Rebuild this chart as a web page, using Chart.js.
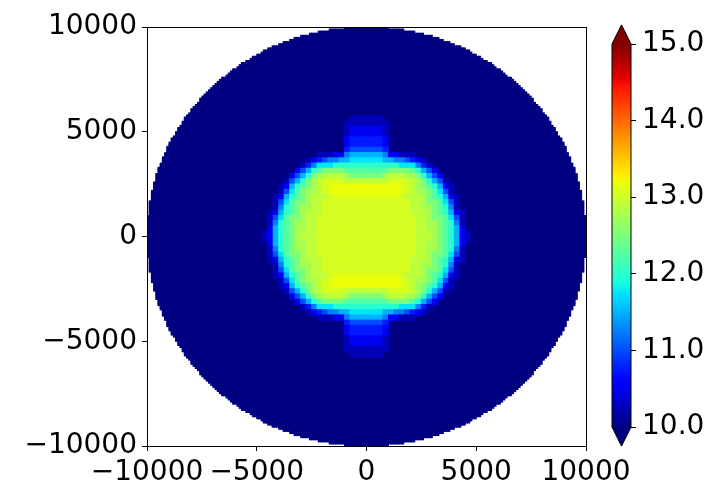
<!DOCTYPE html>
<html>
<head>
<meta charset="utf-8">
<script src="https://cdn.jsdelivr.net/npm/chart.js@4.4.0/dist/chart.umd.min.js"></script>
<style>
    html, body { margin: 0; padding: 0; background: #fff; }
    #wrap { position: relative; width: 720px; height: 500px; }
    #fieldChart { position: absolute; left: 0; top: 0; }
    #colorbarChart { position: absolute; left: 590px; top: 0; }
</style>
</head>
<body>
<div id="wrap">
    <canvas id="fieldChart" width="720" height="500"></canvas>
    <canvas id="colorbarChart" width="130" height="500"></canvas>
</div>
<script>
// axis ticks (data units)
const axisTicks = [-10000, -5000, 0, 5000, 10000];
const colorbarTicks = [10, 11, 12, 13, 14, 15];

// circular domain, value outside the blob
const domainRadius = 10000;
const domainStep = 100;
const backgroundValue = 10;

// blob field: 250-unit cells, x from -5000 to 5000, y from 6000 down to -6000
const fieldStep = 250;
const fieldLeft = -5000;
const fieldTop = 6000;
const levelCodes = "0123456789abcdef";
const levelValues = [10.0, 10.25, 10.5, 10.75, 11.0, 11.25, 11.5, 11.75, 12.0, 12.25, 12.5, 12.75, 12.9, 13.05, 13.12, 13.2];
const fieldRows = [
    "0000000000000000000000000000000000000000",
    "0000000000000000011111100000000000000000",
    "0000000000000000111111110000000000000000",
    "0000000000000000122222210000000000000000",
    "0000000000000000122222210000000000000000",
    "0000000000000000233333320000000000000000",
    "0000000000000000233333320000000000000000",
    "0000000000000000344444430000000000000000",
    "0000000000011122566666652211100000000000",
    "0000000001234556677777766554321000000000",
    "0000000013577788888888888877753100000000",
    "000000024689aaaa99999999aaaa986420000000",
    "0000002468abbcccbaaaaaabcccbba8642000000",
    "000001468abcddddccccccccddddcba864100000",
    "000012689abcdeffffffffffffedcba986210000",
    "00001479abbcdeffffffffffffedcbba97410000",
    "00012689abcccdeeeeeeeeeeeedcccba98621000",
    "0001479aabccddddddddddddddddccbaa9741000",
    "0001589abbccddddddddddddddddccbba9851000",
    "0012689abcccddddddddddddddddcccba9862100",
    "001479aabccddddddddddddddddddccbaa974100",
    "001589abbccddddddddddddddddddccbba985100",
    "002689abbccddddddddddddddddddccbba986200",
    "012689abcccddddddddddddddddddcccba986210",
    "012689abcccddddddddddddddddddcccba986210",
    "002689abbccddddddddddddddddddccbba986200",
    "001589abbccddddddddddddddddddccbba985100",
    "001479aabccddddddddddddddddddccbaa974100",
    "0012689abcccddddddddddddddddcccba9862100",
    "0001589abbccddddddddddddddddccbba9851000",
    "0001479aabccddddddddddddddddccbaa9741000",
    "00012689abcccdeeeeeeeeeeeedcccba98621000",
    "00001479abbcdeffffffffffffedcbba97410000",
    "000012689abcdeffffffffffffedcba986210000",
    "000001468abcddddccccccccddddcba864100000",
    "0000002468abbcccbaaaaaabcccbba8642000000",
    "000000024689aaaa99999999aaaa986420000000",
    "0000000013577788888888888877753100000000",
    "0000000001234556677777766554321000000000",
    "0000000000011122566666652211100000000000",
    "0000000000000000344444430000000000000000",
    "0000000000000000233333320000000000000000",
    "0000000000000000233333320000000000000000",
    "0000000000000000122222210000000000000000",
    "0000000000000000122222210000000000000000",
    "0000000000000000111111110000000000000000",
    "0000000000000000011111100000000000000000",
    "0000000000000000000000000000000000000000"
];

const cbMin = colorbarTicks[0];
const cbMax = colorbarTicks[colorbarTicks.length - 1];
const FONT = { family: "'DejaVu Sans', sans-serif", size: 28 };

// matplotlib "jet" segments
const JET_R = [[0, 0], [0.35, 0], [0.66, 1], [0.89, 1], [1, 0.5]];
const JET_G = [[0, 0], [0.125, 0], [0.375, 1], [0.64, 1], [0.91, 0], [1, 0]];
const JET_B = [[0, 0.5], [0.11, 1], [0.34, 1], [0.65, 0], [1, 0]];

function seg(pts, t) {
    for (let k = 1; k < pts.length; k++) {
        if (t <= pts[k][0]) {
            const [x0, y0] = pts[k - 1], [x1, y1] = pts[k];
            return y0 + (y1 - y0) * (t - x0) / (x1 - x0);
        }
    }
    return pts[pts.length - 1][1];
}

function jet(v) {
    const t = Math.min(1, Math.max(0, (v - cbMin) / (cbMax - cbMin)));
    return "rgb(" + Math.round(255 * seg(JET_R, t)) + "," + Math.round(255 * seg(JET_G, t)) + "," + Math.round(255 * seg(JET_B, t)) + ")";
}

// cells of the circular domain
const domainPoints = [];
for (let x = -domainRadius + domainStep / 2; x < domainRadius; x += domainStep) {
    for (let y = -domainRadius + domainStep / 2; y < domainRadius; y += domainStep) {
        if (x * x + y * y <= domainRadius * domainRadius) domainPoints.push({ x: x, y: y });
    }
}

// cells of the blob
const fieldPoints = [];
const fieldColors = [];
fieldRows.forEach(function (row, j) {
    for (let i = 0; i < row.length; i++) {
        const v = levelValues[levelCodes.indexOf(row[i])];
        if (v <= backgroundValue) continue;
        fieldPoints.push({ x: fieldLeft + fieldStep * (i + 0.5), y: fieldTop - fieldStep * (j + 0.5) });
        fieldColors.push(jet(v));
    }
});

// square marker big enough to cover one cell (with a small overlap so no seams show)
function cellRadius(step, overlap) {
    return function (context) {
        const sx = context.chart.scales.x, sy = context.chart.scales.y;
        const w = Math.abs(sx.getPixelForValue(step) - sx.getPixelForValue(0));
        const h = Math.abs(sy.getPixelForValue(step) - sy.getPixelForValue(0));
        return (Math.max(w, h) + overlap) / Math.SQRT2;
    };
}

const tickText = v => (v < 0 ? "\u2212" + Math.abs(v) : String(v));

const axesFrame = {
    id: "axesFrame",
    afterDraw(chart) {
        const { ctx, chartArea: a } = chart;
        ctx.save();
        ctx.strokeStyle = "#000";
        ctx.lineWidth = 1;
        ctx.strokeRect(Math.round(a.left) + 0.5, Math.round(a.top) + 0.5, Math.round(a.right - a.left), Math.round(a.bottom - a.top));
        ctx.restore();
    }
};

function axisOptions(fitter) {
    return {
        type: "linear",
        min: axisTicks[0],
        max: axisTicks[axisTicks.length - 1],
        afterBuildTicks: s => { s.ticks = axisTicks.map(v => ({ value: v })); },
        ticks: { callback: tickText, font: FONT, color: "#000", padding: 5, maxRotation: 0, autoSkip: false },
        grid: { drawOnChartArea: false, drawTicks: true, tickLength: 5, color: "#000", lineWidth: 1 },
        border: { display: false },
        afterFit: fitter
    };
}

new Chart(document.getElementById("fieldChart"), {
    type: "scatter",
    data: {
        datasets: [
            {
                // blob on top
                order: 1,
                data: fieldPoints,
                pointStyle: "rect",
                pointRadius: cellRadius(fieldStep, 1.0),
                pointBorderWidth: 0,
                pointBackgroundColor: fieldColors
            },
            {
                order: 2,
                data: domainPoints,
                pointStyle: "rect",
                pointRadius: cellRadius(domainStep, 1.0),
                pointBorderWidth: 0,
                pointBackgroundColor: jet(backgroundValue)
            }
        ]
    },
    options: {
        responsive: false,
        animation: false,
        events: [],
        parsing: false,
        devicePixelRatio: 1,
        layout: { padding: { top: 27, right: 134, bottom: 0, left: 0 } },
        plugins: { legend: { display: false }, tooltip: { enabled: false } },
        scales: {
            x: axisOptions(s => { s.height = 54; }),
            y: axisOptions(s => { s.width = 147; })
        }
    },
    plugins: [axesFrame]
});

// colorbar with extension triangles
const colorbarFrame = {
    id: "colorbarFrame",
    afterDraw(chart) {
        const { ctx, chartArea: a, scales: { y } } = chart;
        const top = y.getPixelForValue(cbMax), bottom = y.getPixelForValue(cbMin);
        const mid = (a.left + a.right) / 2;
        const ext = (bottom - top) * 0.05;
        ctx.save();
        ctx.fillStyle = jet(cbMax + 1);
        ctx.beginPath();
        ctx.moveTo(a.left, top); ctx.lineTo(mid, top - ext); ctx.lineTo(a.right, top);
        ctx.closePath(); ctx.fill();
        ctx.fillStyle = jet(cbMin - 1);
        ctx.beginPath();
        ctx.moveTo(a.left, bottom); ctx.lineTo(mid, bottom + ext); ctx.lineTo(a.right, bottom);
        ctx.closePath(); ctx.fill();
        ctx.strokeStyle = "#000";
        ctx.lineWidth = 1;
        ctx.beginPath();
        ctx.moveTo(a.left, top); ctx.lineTo(mid, top - ext); ctx.lineTo(a.right, top);
        ctx.lineTo(a.right, bottom); ctx.lineTo(mid, bottom + ext); ctx.lineTo(a.left, bottom);
        ctx.closePath(); ctx.stroke();
        ctx.restore();
    }
};

new Chart(document.getElementById("colorbarChart"), {
    type: "bar",
    data: {
        labels: [""],
        datasets: [{
            data: [[cbMin, cbMax]],
            backgroundColor: function (context) {
                const chart = context.chart;
                const y = chart.scales.y;
                if (!chart.chartArea || !y) return jet(cbMin);
                const g = chart.ctx.createLinearGradient(0, y.getPixelForValue(cbMin), 0, y.getPixelForValue(cbMax));
                for (let k = 0; k <= 100; k++) g.addColorStop(k / 100, jet(cbMin + (cbMax - cbMin) * k / 100));
                return g;
            },
            borderWidth: 0,
            barPercentage: 1,
            categoryPercentage: 1
        }]
    },
    options: {
        responsive: false,
        animation: false,
        events: [],
        devicePixelRatio: 1,
        layout: { padding: { top: 44, right: 0, bottom: 73, left: 22 } },
        plugins: { legend: { display: false }, tooltip: { enabled: false } },
        scales: {
            x: { display: false },
            y: {
                position: "right",
                min: cbMin,
                max: cbMax,
                afterBuildTicks: s => { s.ticks = colorbarTicks.map(v => ({ value: v })); },
                ticks: { callback: v => Number(v).toFixed(1), font: FONT, color: "#000", padding: 6 },
                grid: { drawOnChartArea: false, drawTicks: true, tickLength: 5, color: "#000", lineWidth: 1 },
                border: { display: false },
                afterFit: s => { s.width = 89; }
            }
        }
    },
    plugins: [colorbarFrame]
});
</script>
</body>
</html>
